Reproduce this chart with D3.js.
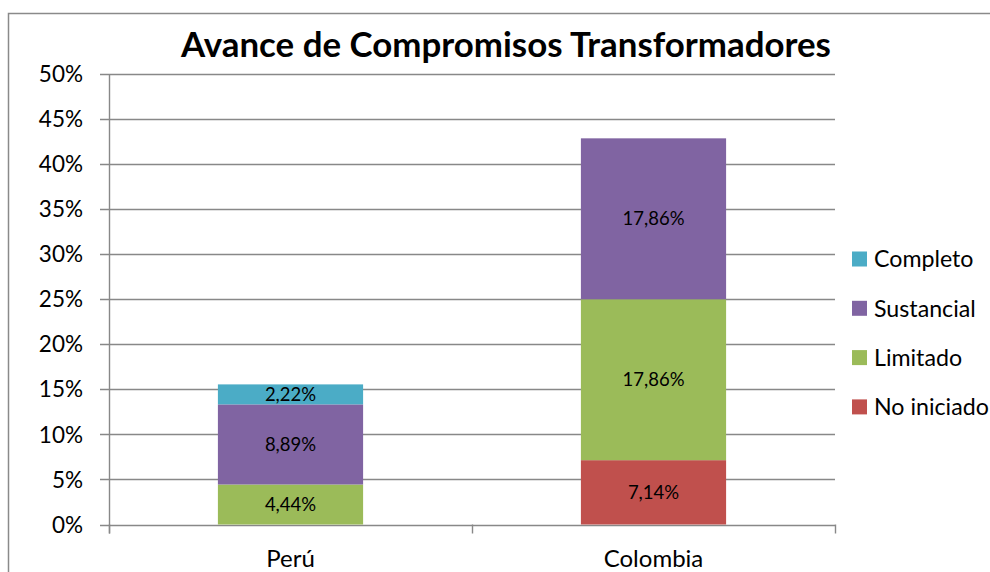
<!DOCTYPE html>
<html><head><meta charset="utf-8">
<script src="https://cdn.jsdelivr.net/npm/d3@7"></script>
<style>body{margin:0;background:#fff;}svg{display:block;}text{font-family:Lato,"Open Sans",sans-serif;fill:#000;}</style>
</head><body>
<script>
const categories = ["Perú", "Colombia"];
const seriesNames = ["No iniciado", "Limitado", "Sustancial", "Completo"];
const noIniciado = [0, 7.14];
const limitado = [4.44, 17.86];
const sustancial = [8.89, 17.86];
const completo = [2.22, 0];
const yTicks = [0, 5, 10, 15, 20, 25, 30, 35, 40, 45, 50];
const colors = ["#C0504D", "#9BBB59", "#8064A2", "#4BACC6"];
const title = "Avance de Compromisos Transformadores";

const W = 990, H = 572;
const svg = d3.select("body").append("svg").attr("width", W).attr("height", H);
const m = {left: 109, right: 835, top: 74, bottom: 524.5};

svg.append("rect").attr("x", 8.5).attr("y", 13.5).attr("width", 1100).attr("height", 700)
  .attr("fill", "none").attr("stroke", "#8a8a8a").attr("stroke-width", 1.5);

const x = d3.scaleBand().domain(categories).range([m.left, m.right]).paddingInner(0.6).paddingOuter(0.3);
const y = d3.scaleLinear().domain([0, 50]).range([m.bottom, m.top]);

const grid = "#888";
svg.append("g").selectAll("line").data(yTicks).join("line")
  .attr("x1", m.left - 9).attr("x2", m.right)
  .attr("y1", d => Math.round(y(d)) + 0.5).attr("y2", d => Math.round(y(d)) + 0.5)
  .attr("stroke", grid).attr("stroke-width", 1.4);
svg.append("line").attr("x1", m.left + 0.5).attr("x2", m.left + 0.5).attr("y1", m.top).attr("y2", m.bottom + 9)
  .attr("stroke", grid).attr("stroke-width", 1.4);
const xTickPos = [m.left, (m.left + m.right) / 2, m.right];
svg.append("g").selectAll("line").data(xTickPos).join("line")
  .attr("x1", d => Math.round(d) + 0.5).attr("x2", d => Math.round(d) + 0.5)
  .attr("y1", m.bottom).attr("y2", m.bottom + 9).attr("stroke", grid).attr("stroke-width", 1.4);

svg.append("g").selectAll("text").data(yTicks).join("text")
  .attr("x", 83).attr("y", d => y(d)).attr("dy", "0.36em").attr("text-anchor", "end")
  .style("font-size", "22.5px").text(d => d + "%");

const table = categories.map((c, i) => ({cat: c, "No iniciado": noIniciado[i], "Limitado": limitado[i], "Sustancial": sustancial[i], "Completo": completo[i]}));
const stack = d3.stack().keys(seriesNames)(table);
const fmt = v => v.toFixed(2).replace(".", ",") + "%";

stack.forEach((s, si) => {
  const g = svg.append("g");
  g.selectAll("rect").data(s.filter(d => d[1] - d[0] > 0)).join("rect")
    .attr("x", d => x(d.data.cat)).attr("width", x.bandwidth())
    .attr("y", d => y(d[1])).attr("height", d => y(d[0]) - y(d[1]))
    .attr("fill", colors[si]);
  g.selectAll("text").data(s.filter(d => d[1] - d[0] > 0)).join("text")
    .attr("x", d => x(d.data.cat) + x.bandwidth() / 2)
    .attr("y", d => (y(d[0]) + y(d[1])) / 2).attr("dy", "0.36em")
    .attr("text-anchor", "middle").style("font-size", "18.5px")
    .text(d => fmt(d[1] - d[0]));
});

svg.append("g").selectAll("text").data(categories).join("text")
  .attr("x", d => x(d) + x.bandwidth() / 2).attr("y", 567).attr("text-anchor", "middle")
  .style("font-size", "24px").text(d => d);

const legendOrder = ["Completo", "Sustancial", "Limitado", "No iniciado"];
const lg = svg.append("g").selectAll("g").data(legendOrder).join("g")
  .attr("transform", (d, i) => `translate(852, ${259 + i * 49.3})`);
lg.append("rect").attr("x", 0).attr("y", -7.5).attr("width", 15).attr("height", 15)
  .attr("fill", d => colors[seriesNames.indexOf(d)]);
lg.append("text").attr("x", 22).attr("y", 0).attr("dy", "0.36em").style("font-size", "23.2px").text(d => d);

const t = svg.append("text").attr("x", 506).attr("y", 57).attr("text-anchor", "middle")
  .style("font-size", "34px").style("font-weight", "bold").text(title);
const len = t.node().getComputedTextLength();
t.style("font-size", (34 * 650 / len).toFixed(2) + "px");
</script>
</body></html>
